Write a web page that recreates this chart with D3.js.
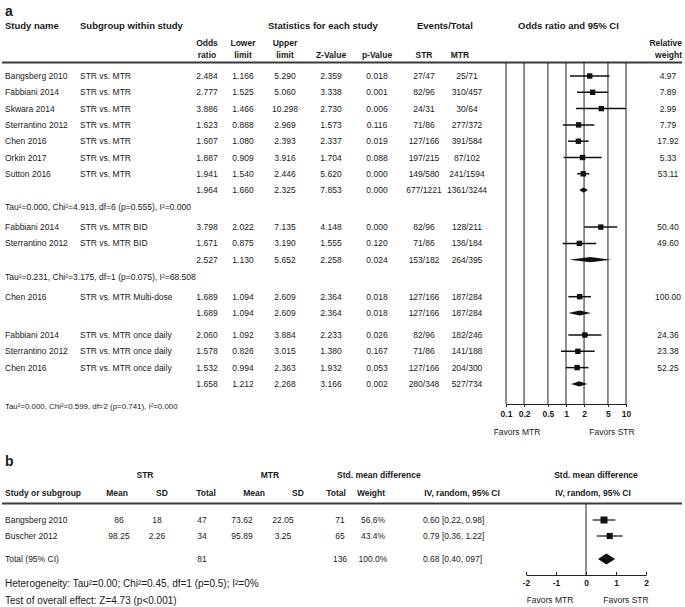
<!DOCTYPE html>
<html><head><meta charset="utf-8">
<script src="https://cdn.jsdelivr.net/npm/d3@7"></script>
<style>
html,body{margin:0;padding:0;background:#fff;}
svg text{font-family:"Liberation Sans",Arial,Helvetica,sans-serif;fill:#1a1a1a;}
</style></head>
<body><svg id="c" width="685" height="607"></svg>
<script>
// ---------- Panel a data ----------
const aKinds     = ["s","s","s","s","s","s","s","sum", "s","s","sum", "s","sum", "s","s","s","sum"];
const aGroups    = [0,0,0,0,0,0,0,0, 1,1,1, 2,2, 3,3,3,3];
const aStudy     = ["Bangsberg 2010","Fabbiani 2014","Skwara 2014","Sterrantino 2012","Chen 2016","Orkin 2017","Sutton 2016","",
                    "Fabbiani 2014","Sterrantino 2012","",
                    "Chen 2016","",
                    "Fabbiani 2014","Sterrantino 2012","Chen 2016",""];
const aSubgroup  = ["STR vs. MTR","STR vs. MTR","STR vs. MTR","STR vs. MTR","STR vs. MTR","STR vs. MTR","STR vs. MTR","",
                    "STR vs. MTR BID","STR vs. MTR BID","",
                    "STR vs. MTR Multi-dose","",
                    "STR vs. MTR once daily","STR vs. MTR once daily","STR vs. MTR once daily",""];
const aOR        = [2.484,2.777,3.886,1.623,1.607,1.887,1.941,1.964, 3.798,1.671,2.527, 1.689,1.689, 2.060,1.578,1.532,1.658];
const aLower     = [1.166,1.525,1.466,0.888,1.080,0.909,1.540,1.660, 2.022,0.875,1.130, 1.094,1.094, 1.092,0.826,0.994,1.212];
const aUpper     = [5.290,5.060,10.298,2.969,2.393,3.916,2.446,2.325, 7.135,3.190,5.652, 2.609,2.609, 3.884,3.015,2.363,2.268];
const aZ         = [2.359,3.338,2.730,1.573,2.337,1.704,5.620,7.853, 4.148,1.555,2.258, 2.364,2.364, 2.233,1.380,1.932,3.166];
const aP         = [0.018,0.001,0.006,0.116,0.019,0.088,0.000,0.000, 0.000,0.120,0.024, 0.018,0.018, 0.026,0.167,0.053,0.002];
const aSTR       = ["27/47","82/96","24/31","71/86","127/166","197/215","149/580","677/1221",
                    "82/96","71/86","153/182", "127/166","127/166", "82/96","71/86","127/166","280/348"];
const aMTR       = ["25/71","310/457","30/64","277/372","391/584","87/102","241/1594","1361/3244",
                    "128/211","136/184","264/395", "187/284","187/284", "182/246","141/188","204/300","527/734"];
const aWeight    = [4.97,7.89,2.99,7.79,17.92,5.33,53.11,null, 50.40,49.60,null, 100.00,null, 24.36,23.38,52.25,null];
const aTauText   = ["Tau\u00B2=0.000, Chi\u00B2=4.913, df=6 (p=0.555), I\u00B2=0.000",
                    "Tau\u00B2=0.231, Chi\u00B2=3.175, df=1 (p=0.075), I\u00B2=68.508",
                    null,
                    "Tau\u00B2=0.000, Chi\u00B2=0.599, df=2 (p=0.741), I\u00B2=0.000"];
const aTicks     = [0.1,0.2,0.5,1,2,5,10];

// ---------- Panel b data ----------
const bStudy   = ["Bangsberg 2010","Buscher 2012"];
const bStrMean = [86, 98.25];
const bStrSD   = [18, 2.26];
const bStrN    = [47, 34];
const bMtrMean = [73.62, 95.89];
const bMtrSD   = [22.05, 3.25];
const bMtrN    = [71, 65];
const bWeight  = [56.6, 43.4];
const bSMD     = [0.60, 0.79];
const bLo      = [0.22, 0.36];
const bHi      = [0.98, 1.22];
const bTotalStrN = 81, bTotalMtrN = 136, bTotalWeight = 100.0;
const bTotalSMD = 0.68, bTotalLo = 0.40, bTotalHi = 0.97;
const bTotalLabel = "0.68 [0.40, 097]";
const bTicks   = [-2,-1,0,1,2];

// ---------- drawing ----------
const svg = d3.select("#c");
const FS = 8.5;
function txt(x,y,s,opt={}){
  const t = svg.append("text").attr("x",x).attr("y",y).text(s)
    .attr("font-size",opt.size||FS)
    .attr("text-anchor",opt.anchor||"start");
  if(opt.bold) t.attr("font-weight","bold");
  return t;
}
const f3 = d3.format(".3f"), f2 = d3.format(".2f");

// Panel a header
const HS = 9.5;
txt(5,16,"a",{size:14,bold:true});
txt(5,29,"Study name",{bold:true,size:HS});
txt(80,29,"Subgroup within study",{bold:true,size:HS});
txt(268,29,"Statistics for each study",{bold:true,size:HS});
txt(417,29,"Events/Total",{bold:true,size:HS});
txt(518,29,"Odds ratio and 95% CI",{bold:true,size:HS});
const colX = {or:207, lo:243, up:285, z:331, p:377, str:424, mtr:467, w:668};
[["Odds","ratio",colX.or],["Lower","limit",colX.lo],["Upper","limit",colX.up]].forEach(d=>{
  txt(d[2],46,d[0],{bold:true,anchor:"middle"});
  txt(d[2],58,d[1],{bold:true,anchor:"middle"});
});
txt(colX.z,58,"Z-Value",{bold:true,anchor:"middle"});
txt(colX.p,58,"p-Value",{bold:true,anchor:"middle"});
txt(colX.str,58,"STR",{bold:true,anchor:"middle"});
txt(460,58,"MTR",{bold:true,anchor:"middle"});
txt(682,46,"Relative",{bold:true,anchor:"end"});
txt(682,58,"weight",{bold:true,anchor:"end"});

svg.append("line").attr("x1",2).attr("x2",682).attr("y1",62.5).attr("y2",62.5)
  .attr("stroke","#3a3a3a").attr("stroke-width",1.8);

// row layout (y centres)
const rowY = [], tauY = [];
{
  let y = 76;
  const STEP = 16.3;
  for(let i=0;i<aKinds.length;i++){
    if(i>0){
      const prevG = aGroups[i-1], g = aGroups[i];
      if(g!==prevG){
        if(aTauText[prevG]){ tauY[prevG] = y + 17; y = tauY[prevG] + 20; }
        else { y += 22; }
      } else y += STEP;
    }
    rowY.push(y);
  }
  const lastG = aGroups[aGroups.length-1];
  tauY[lastG] = y + 22;
}

// forest a scale
const xA = d3.scaleLog().domain([0.1,10]).range([506,626]);
const axisYA = 404;
svg.append("g").selectAll("line").data(aTicks).join("line")
  .attr("x1",d=>xA(d)).attr("x2",d=>xA(d)).attr("y1",62.5).attr("y2",axisYA)
  .attr("stroke","#222").attr("stroke-width",1);
const axA = svg.append("g").attr("transform",`translate(0,${axisYA})`)
  .call(d3.axisBottom(xA).tickValues(aTicks).tickFormat(d=>String(d)).tickSize(3).tickPadding(4).tickSizeOuter(0));
axA.select(".domain").attr("stroke","#222");
axA.selectAll(".tick line").attr("stroke","#222");
axA.selectAll("text").attr("font-size",FS).attr("font-weight","bold").attr("fill","#1a1a1a")
  .attr("font-family",'"Liberation Sans",Arial,sans-serif');
txt(517,435,"Favors MTR",{anchor:"middle"});
txt(612,435,"Favors STR",{anchor:"middle"});

// rows
aKinds.forEach((k,i)=>{
  const y = rowY[i], by = y+3;
  if(aStudy[i]) txt(5,by,aStudy[i]);
  if(aSubgroup[i]) txt(80,by,aSubgroup[i]);
  txt(colX.or,by,f3(aOR[i]),{anchor:"middle"});
  txt(colX.lo,by,f3(aLower[i]),{anchor:"middle"});
  txt(colX.up,by,f3(aUpper[i]),{anchor:"middle"});
  txt(colX.z,by,f3(aZ[i]),{anchor:"middle"});
  txt(colX.p,by,f3(aP[i]),{anchor:"middle"});
  txt(colX.str,by,aSTR[i],{anchor:"middle"});
  txt(colX.mtr,by,aMTR[i],{anchor:"middle"});
  if(aWeight[i]!==null) txt(colX.w,by,f2(aWeight[i]),{anchor:"middle"});
  const clip = v=>Math.max(506,Math.min(626,xA(v)));
  if(k==="s"){
    svg.append("line").attr("x1",clip(aLower[i])).attr("x2",clip(aUpper[i])).attr("y1",y).attr("y2",y)
      .attr("stroke","#111").attr("stroke-width",1.5);
    svg.append("rect").attr("x",xA(aOR[i])-2.7).attr("y",y-2.7).attr("width",5.4).attr("height",5.4).attr("fill","#111");
  } else {
    const x0=clip(aLower[i]), x1=clip(aUpper[i]), xm=xA(aOR[i]);
    svg.append("path").attr("d",`M${x0},${y}L${xm},${y-2.6}L${x1},${y}L${xm},${y+2.6}Z`).attr("fill","#111");
  }
});
aTauText.forEach((t,g)=>{
  if(!t) return;
  const last = g===aTauText.length-1;
  txt(5,tauY[g]+3,t,{size:last?7.9:FS});
});

// ---------- Panel b ----------
txt(5,466,"b",{size:14,bold:true});
txt(145,478,"STR",{bold:true,anchor:"middle"});
txt(270,478,"MTR",{bold:true,anchor:"middle"});
txt(337,478,"Std. mean difference",{bold:true});
txt(596,478,"Std. mean difference",{bold:true,anchor:"middle"});
txt(5,496,"Study or subgroup",{bold:true});
txt(117,496,"Mean",{bold:true,anchor:"middle"});
txt(162,496,"SD",{bold:true,anchor:"middle"});
txt(206,496,"Total",{bold:true,anchor:"middle"});
txt(254,496,"Mean",{bold:true,anchor:"middle"});
txt(298,496,"SD",{bold:true,anchor:"middle"});
txt(336,496,"Total",{bold:true,anchor:"middle"});
txt(371,496,"Weight",{bold:true,anchor:"middle"});
txt(462,496,"IV, random, 95% CI",{bold:true,anchor:"middle"});
txt(593,496,"IV, random, 95% CI",{bold:true,anchor:"middle"});
svg.append("line").attr("x1",2).attr("x2",682).attr("y1",503.5).attr("y2",503.5)
  .attr("stroke","#3a3a3a").attr("stroke-width",1.8);

const xB = d3.scaleLinear().domain([-2,2]).range([526,646]);
const axisYB = 575;
svg.append("line").attr("x1",xB(0)).attr("x2",xB(0)).attr("y1",503.5).attr("y2",axisYB)
  .attr("stroke","#222").attr("stroke-width",1);
const axB = svg.append("g").attr("transform",`translate(0,${axisYB})`)
  .call(d3.axisBottom(xB).tickValues(bTicks).tickFormat(d=>String(d)).tickSizeInner(-3).tickSizeOuter(0).tickPadding(5));
axB.select(".domain").attr("stroke","#222");
axB.selectAll(".tick line").attr("stroke","#222");
axB.selectAll("text").attr("font-size",FS).attr("font-weight","bold").attr("fill","#1a1a1a")
  .attr("font-family",'"Liberation Sans",Arial,sans-serif');
txt(550,603,"Favors MTR",{anchor:"middle"});
txt(626,603,"Favors STR",{anchor:"middle"});

const bRowY = [520, 536];
bStudy.forEach((s,i)=>{
  const y=bRowY[i], by=y+3;
  txt(5,by,s);
  txt(119,by,String(bStrMean[i]),{anchor:"middle"});
  txt(157,by,String(bStrSD[i]),{anchor:"middle"});
  txt(202,by,String(bStrN[i]),{anchor:"middle"});
  txt(242,by,String(bMtrMean[i]),{anchor:"middle"});
  txt(283,by,String(bMtrSD[i]),{anchor:"middle"});
  txt(340,by,String(bMtrN[i]),{anchor:"middle"});
  txt(373,by,d3.format(".1f")(bWeight[i])+"%",{anchor:"middle"});
  txt(423,by,`${f2(bSMD[i])} [${f2(bLo[i])}, ${f2(bHi[i])}]`);
  svg.append("line").attr("x1",xB(bLo[i])).attr("x2",xB(bHi[i])).attr("y1",y).attr("y2",y)
    .attr("stroke","#111").attr("stroke-width",1.2);
  const sz = 0.93*Math.sqrt(bWeight[i]);
  svg.append("rect").attr("x",xB(bSMD[i])-sz/2).attr("y",y-sz/2).attr("width",sz).attr("height",sz).attr("fill","#111");
});
{
  const y=559, by=y+3;
  txt(5,by,"Total (95% CI)");
  txt(202,by,String(bTotalStrN),{anchor:"middle"});
  txt(340,by,String(bTotalMtrN),{anchor:"middle"});
  txt(373,by,d3.format(".1f")(bTotalWeight)+"%",{anchor:"middle"});
  txt(423,by,bTotalLabel);
  const x0=xB(bTotalLo), x1=xB(bTotalHi), xm=xB(bTotalSMD);
  svg.append("path").attr("d",`M${x0},${y}L${xm},${y-5.5}L${x1},${y}L${xm},${y+5.5}Z`).attr("fill","#111");
}
txt(5,587,"Heterogeneity: Tau\u00B2=0.00; Chi\u00B2=0.45, df=1 (p=0.5); I\u00B2=0%",{size:10});
txt(5,604,"Test of overall effect: Z=4.73 (p<0.001)",{size:10});
</script></body></html>
